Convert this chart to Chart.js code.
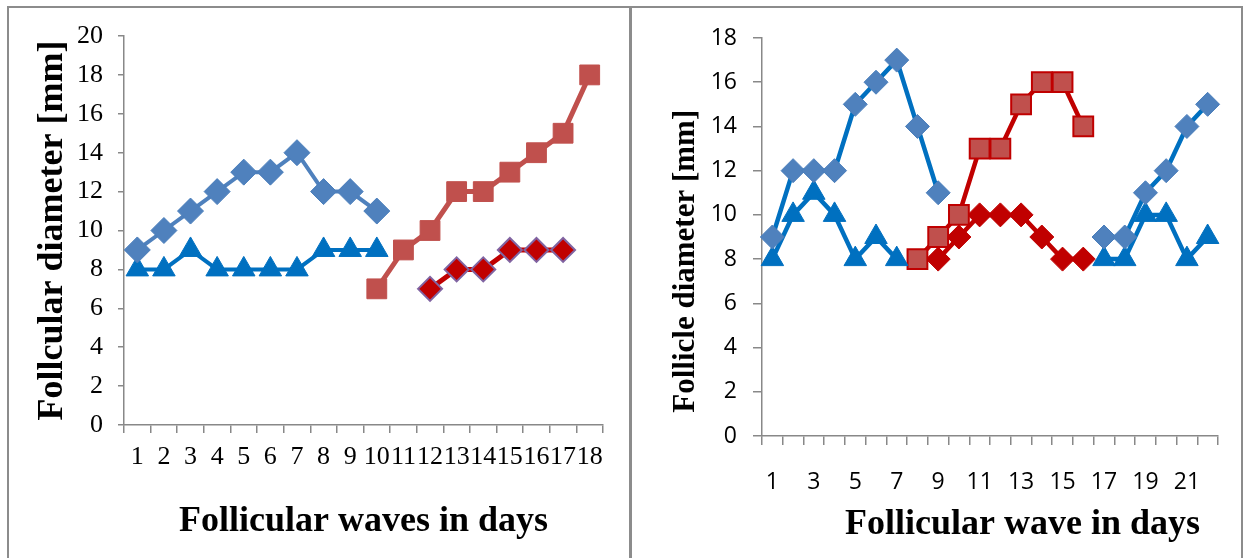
<!DOCTYPE html>
<html>
<head>
<meta charset="utf-8">
<script src="https://cdn.jsdelivr.net/npm/chart.js@4/dist/chart.umd.min.js"></script>
<style>
  body { margin: 0; background: #fff; width: 1249px; height: 558px; overflow: hidden; position: relative; }
  #frame { position: absolute; left: 7px; top: 6px; width: 1232px; height: 570px; border: 2px solid #8c8c8c; }
  #divider { position: absolute; left: 629px; top: 6px; width: 3px; height: 560px; background: #8c8c8c; }
  #left { position: absolute; left: 10px; top: 10px; }
  #right { position: absolute; left: 633px; top: 10px; }
</style>
</head>
<body>
<div id="frame"></div>
<div id="divider"></div>
<canvas id="left" width="618" height="548"></canvas>
<canvas id="right" width="606" height="548"></canvas>
<script>
// left chart data
const leftDays = ['1','2','3','4','5','6','7','8','9','10','11','12','13','14','15','16','17','18'];
const leftDiamond = [9, 10, 11, 12, 13, 13, 14, 12, 12, 11, null, null, null, null, null, null, null, null];
const leftTriangle = [8, 8, 9, 8, 8, 8, 8, 9, 9, 9, null, null, null, null, null, null, null, null];
const leftSquare = [null, null, null, null, null, null, null, null, null, 7, 9, 10, 12, 12, 13, 14, 15, 18];
const leftSmall = [null, null, null, null, null, null, null, null, null, null, null, 7, 8, 8, 9, 9, 9, null];

// right chart data
const rightDays = ['1','2','3','4','5','6','7','8','9','10','11','12','13','14','15','16','17','18','19','20','21','22'];
const rightDiamond = [9, 12, 12, 12, 15, 16, 17, 14, 11, null, null, null, null, null, null, null, 9, 9, 11, 12, 14, 15];
const rightTriangle = [8, 10, 11, 10, 8, 9, 8, null, null, null, null, null, null, null, null, null, 8, 8, 10, 10, 8, 9];
const rightSquare = [null, null, null, null, null, null, null, 8, 9, 10, 13, 13, 15, 16, 16, 14, null, null, null, null, null, null];
const rightSmall = [null, null, null, null, null, null, null, null, 8, 9, 10, 10, 10, 9, 8, 8, null, null, null, null, null, null];

const axisGray = '#888888';
const serif = "'Liberation Serif', 'Times New Roman', serif";
const sans = "'Open Sans', sans-serif";

function series(data, style, radius, fill, border, line, lineWidth, borderWidth) {
    return {
        data: data,
        pointStyle: style,
        pointRadius: radius,
        pointHoverRadius: radius,
        pointBackgroundColor: fill,
        pointBorderColor: border,
        pointBorderWidth: borderWidth,
        borderColor: line,
        borderWidth: lineWidth,
        fill: false,
        tension: 0
    };
}

// fixed axis boxes so the plot area lands where the original has it
function fixX(h) {
    return s => { s.height = h; s.paddingLeft = 0; s.paddingRight = 0; };
}
function fixY(w) {
    return s => { s.width = w; s.paddingTop = 0; s.paddingBottom = 0; };
}

// left chart
new Chart(document.getElementById('left'), {
    type: 'line',
    data: {
        labels: leftDays,
        datasets: [
            series(leftDiamond, 'rectRot', 13, '#4F81BD', '#4A7EBB', '#4F81BD', 4, 1),
            series(leftTriangle, 'triangle', 13, '#0070C0', '#0070C0', '#0070C0', 4, 1),
            series(leftSquare, 'rect', 14, '#C0504D', '#C0504D', '#C0504D', 5, 1),
            series(leftSmall, 'rectRot', 12, '#C00000', '#8064A2', '#C00000', 5, 2)
        ]
    },
    options: {
        responsive: false,
        animation: false,
        devicePixelRatio: 1,
        layout: { padding: { top: 26, right: 25, left: 0, bottom: 0 } },
        plugins: { legend: { display: false }, tooltip: { enabled: false } },
        scales: {
            x: {
                offset: true,
                afterFit: fixX(133),
                grid: { offset: true, drawOnChartArea: false, color: axisGray, tickLength: 8, lineWidth: 1.5 },
                border: { color: axisGray, width: 1.5 },
                ticks: { color: '#000', font: { family: serif, size: 26 }, padding: 9, maxRotation: 0, autoSkip: false },
                title: {
                    display: true, text: 'Follicular waves in days', color: '#000',
                    font: { family: serif, size: 36, weight: 'bold' }, padding: { top: 0, bottom: 15 }
                }
            },
            y: {
                min: 0, max: 20,
                afterFit: fixY(114),
                grid: { drawOnChartArea: false, color: axisGray, tickLength: 6, lineWidth: 1.5 },
                border: { color: axisGray, width: 1.5 },
                ticks: { stepSize: 2, color: '#000', font: { family: serif, size: 26 }, padding: 15 },
                title: {
                    display: true, text: 'Follcular diameter [mm]', color: '#000',
                    font: { family: serif, size: 36, weight: 'bold' }, padding: { top: 21, bottom: 0 }
                }
            }
        }
    }
});

// right chart
new Chart(document.getElementById('right'), {
    type: 'line',
    data: {
        labels: rightDays,
        datasets: [
            series(rightDiamond, 'rectRot', 12, '#4F81BD', '#4A7EBB', '#0070C0', 4.5, 1),
            series(rightTriangle, 'triangle', 13, '#0070C0', '#0070C0', '#0070C0', 4.5, 1),
            series(rightSquare, 'rect', 14, '#C0504D', '#C00000', '#C00000', 4.5, 2),
            series(rightSmall, 'rectRot', 12, '#C00000', '#C00000', '#C00000', 4.5, 1)
        ]
    },
    options: {
        responsive: false,
        animation: false,
        devicePixelRatio: 1,
        layout: { padding: { top: 28, right: 21, left: 0, bottom: 0 } },
        plugins: { legend: { display: false }, tooltip: { enabled: false } },
        scales: {
            x: {
                offset: true,
                afterFit: fixX(122),
                grid: { offset: true, drawOnChartArea: false, color: axisGray, tickLength: 9, lineWidth: 1.5 },
                border: { color: axisGray, width: 1.5 },
                ticks: {
                    color: '#000', font: { family: sans, size: 23 }, padding: 24,
                    maxRotation: 0, autoSkip: false,
                    callback: (v, i) => (i % 2 === 0 ? rightDays[i] : '')
                },
                title: {
                    display: true, text: 'Follicular wave in days  ', color: '#000', align: 'end',
                    font: { family: serif, size: 36, weight: 'bold' }, padding: { top: 0, bottom: 12 }
                }
            },
            y: {
                min: 0, max: 18,
                afterFit: fixY(129),
                grid: { drawOnChartArea: false, color: axisGray, tickLength: 9, lineWidth: 1.5 },
                border: { color: axisGray, width: 1.5 },
                ticks: { stepSize: 2, color: '#000', font: { family: sans, size: 23 }, padding: 16 },
                title: {
                    display: true, text: '   Follicle diameter [mm]', color: '#000', align: 'start',
                    font: { family: serif, size: 31, weight: 'bold' }, padding: { top: 34, bottom: 0 }
                }
            }
        }
    }
});
</script>
</body>
</html>
